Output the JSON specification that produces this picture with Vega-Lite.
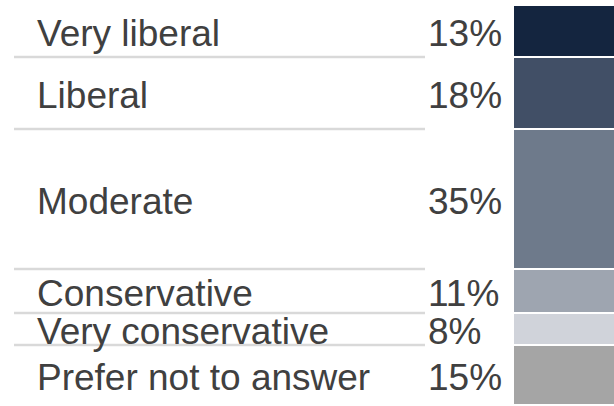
{
  "$schema": "https://vega.github.io/schema/vega-lite/v6.json",
  "padding": {"left": 0, "top": 4, "right": 0, "bottom": 2},
  "spacing": 0,
  "background": "white",
  "config": {"view": {"stroke": null}, "concat": {"spacing": 0}},
  "data": {
    "values": [
      {"category": "Very liberal", "share": 13},
      {"category": "Liberal", "share": 18},
      {"category": "Moderate", "share": 35},
      {"category": "Conservative", "share": 11},
      {"category": "Very conservative", "share": 8},
      {"category": "Prefer not to answer", "share": 15}
    ]
  },
  "transform": [
    {"window": [{"op": "row_number", "as": "idx"}]},
    {"stack": "share", "groupby": [], "sort": [{"field": "idx", "order": "ascending"}], "as": ["y0", "y1"]},
    {"calculate": "(datum.y0 + datum.y1) / 2", "as": "mid"},
    {"calculate": "datum.share + '%'", "as": "pctText"}
  ],
  "hconcat": [
    {
      "width": 512,
      "height": 400,
      "layer": [
        {
          "transform": [{"filter": "datum.idx < 6"}],
          "mark": {"type": "rule", "color": "#d9d9d9", "strokeWidth": 2.5},
          "encoding": {
            "x": {"datum": "label", "type": "nominal", "axis": null, "scale": {"type": "point", "domain": ["label", "pct"], "range": [14, 425], "padding": 0}},
            "x2": {"datum": "pct"},
            "y": {"field": "y1", "type": "quantitative", "axis": null, "scale": {"domain": [0, 100], "reverse": true, "nice": false, "zero": true}}
          }
        },
        {
          "mark": {"type": "text", "align": "left", "baseline": "middle", "dx": 23, "dy": 4, "font": "Liberation Sans", "fontSize": 37, "color": "#404040"},
          "encoding": {
            "x": {"datum": "label", "type": "nominal"},
            "y": {"field": "mid", "type": "quantitative"},
            "text": {"field": "category", "type": "nominal"}
          }
        },
        {
          "mark": {"type": "text", "align": "left", "baseline": "middle", "dx": 3, "dy": 4, "font": "Liberation Sans", "fontSize": 37, "color": "#404040"},
          "encoding": {
            "x": {"datum": "pct", "type": "nominal"},
            "y": {"field": "mid", "type": "quantitative"},
            "text": {"field": "pctText", "type": "nominal"}
          }
        }
      ]
    },
    {
      "width": 102,
      "height": 400,
      "mark": {"type": "bar", "stroke": "white", "strokeWidth": 2},
      "encoding": {
        "x": {"datum": 0, "type": "quantitative", "axis": null, "scale": {"domain": [0, 1], "nice": false}},
        "x2": {"datum": 1},
        "y": {"field": "y0", "type": "quantitative", "axis": null, "scale": {"domain": [0, 100], "reverse": true, "nice": false}},
        "y2": {"field": "y1"},
        "color": {
          "field": "category",
          "type": "nominal",
          "legend": null,
          "scale": {
            "domain": ["Very liberal", "Liberal", "Moderate", "Conservative", "Very conservative", "Prefer not to answer"],
            "range": ["#14253f", "#414f66", "#6e7a8b", "#9ea5b0", "#d0d3da", "#a5a5a5"]
          }
        }
      }
    }
  ]
}
